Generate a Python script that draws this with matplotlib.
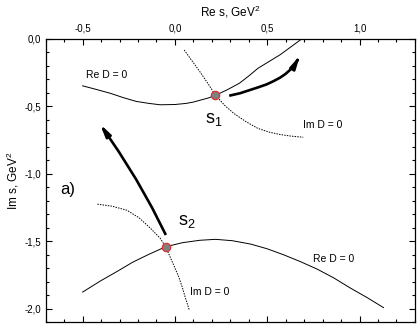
import matplotlib
matplotlib.use("Agg")
import matplotlib.pyplot as plt
from matplotlib.ticker import MultipleLocator, FuncFormatter

plt.rcParams['font.family'] = ['Liberation Sans', 'DejaVu Sans']
plt.rcParams['mathtext.fontset'] = 'custom'
plt.rcParams['mathtext.rm'] = 'Liberation Sans'
plt.rcParams['mathtext.it'] = 'Liberation Sans:italic'

# Re D = 0, upper branch
re1_x = [-0.50, -0.43, -0.35, -0.28, -0.21, -0.14, -0.08, 0.0, 0.06, 0.10, 0.14, 0.18,
         0.22, 0.285, 0.35, 0.40, 0.45, 0.51, 0.57, 0.63, 0.69]
re1_y = [-0.35, -0.375, -0.405, -0.437, -0.465, -0.48, -0.49, -0.488, -0.48, -0.47, -0.455, -0.44,
         -0.42, -0.378, -0.33, -0.277, -0.22, -0.17, -0.12, -0.06, 0.0]
# Im D = 0, upper branch
im1_x = [0.05, 0.09, 0.135, 0.18, 0.22, 0.27, 0.32, 0.385, 0.45, 0.51, 0.57, 0.63, 0.695]
im1_y = [-0.085, -0.16, -0.245, -0.335, -0.42, -0.495, -0.555, -0.615, -0.665, -0.692, -0.71, -0.722, -0.73]
# Re D = 0, lower branch
re2_x = [-0.50, -0.40, -0.31, -0.23, -0.14, -0.05, 0.04, 0.135, 0.22, 0.31, 0.41, 0.50,
         0.59, 0.68, 0.77, 0.86, 0.95, 1.04, 1.13]
re2_y = [-1.875, -1.79, -1.72, -1.655, -1.595, -1.54, -1.51, -1.492, -1.485, -1.495, -1.52, -1.555,
         -1.60, -1.65, -1.705, -1.77, -1.845, -1.915, -1.99]
# Im D = 0, lower branch
im2_x = [-0.42, -0.34, -0.26, -0.195, -0.135, -0.08, -0.05, -0.015, 0.02, 0.04, 0.055, 0.077]
im2_y = [-1.225, -1.24, -1.27, -1.325, -1.40, -1.477, -1.54, -1.65, -1.76, -1.84, -1.91, -2.005]

# poles s1, s2
poles_x = [0.218, -0.05]
poles_y = [-0.42, -1.54]

# trajectories of the poles (thick arrows)
path1_x = [0.294, 0.352, 0.406, 0.451, 0.497, 0.533, 0.569, 0.599, 0.623, 0.645, 0.659, 0.677]
path1_y = [-0.423, -0.405, -0.381, -0.361, -0.339, -0.316, -0.290, -0.262, -0.233, -0.200, -0.171, -0.127]
path2_x = [-0.049, -0.125, -0.210, -0.304, -0.406]
path2_y = [-1.453, -1.248, -1.042, -0.837, -0.632]

fig = plt.figure(figsize=(4.17, 3.25), dpi=100)
ax = fig.add_axes([0.1096, 0.0077, 0.8854, 0.8738])

ax.plot(re1_x, re1_y, color='black', lw=0.7)
ax.plot(re2_x, re2_y, color='black', lw=0.7)
ax.plot(im1_x, im1_y, color='black', lw=0.7, linestyle=(0, (1.5, 1.2)))
ax.plot(im2_x, im2_y, color='black', lw=0.7, linestyle=(0, (1.5, 1.2)))
ax.plot(poles_x, poles_y, 'o', ms=6, mfc='#808080', mec='#e03030', mew=0.9, zorder=5)

for px, py in [(path1_x, path1_y), (path2_x, path2_y)]:
    ax.plot(px[:-1], py[:-1], color='black', lw=1.9, solid_capstyle='butt',
            solid_joinstyle='round')
    ax.annotate('', xy=(px[-1], py[-1]), xytext=(px[-2], py[-2]),
                arrowprops=dict(arrowstyle='-|>,head_length=0.7,head_width=0.16', lw=1.9,
                                color='black', shrinkA=0, shrinkB=0))

ax.text(-0.482, -0.27, 'Re D = 0', fontsize=7.5, va='center', ha='left')
ax.text(0.693, -0.64, 'Im D = 0', fontsize=7.5, va='center', ha='left')
ax.text(0.748, -1.63, 'Re D = 0', fontsize=7.5, va='center', ha='left')
ax.text(0.081, -1.874, 'Im D = 0', fontsize=7.5, va='center', ha='left')
ax.text(0.163, -0.625, r's$_1$', fontsize=13, va='baseline', ha='left')
ax.text(0.016, -1.379, r's$_2$', fontsize=13, va='baseline', ha='left')
ax.text(-0.623, -1.152, 'a)', fontsize=12, va='baseline', ha='left')

ax.set_xlim(-0.7, 1.3)
ax.set_ylim(-2.1, 0)

comma = FuncFormatter(lambda v, p: ('%.1f' % v).replace('.', ','))
ax.xaxis.set_major_locator(MultipleLocator(0.5))
ax.xaxis.set_minor_locator(MultipleLocator(0.1))
ax.yaxis.set_major_locator(MultipleLocator(0.5))
ax.yaxis.set_minor_locator(MultipleLocator(0.1))
ax.xaxis.set_major_formatter(comma)
ax.yaxis.set_major_formatter(comma)

ax.xaxis.tick_top()
ax.xaxis.set_label_position('top')
ax.tick_params(which='both', direction='in', top=True, bottom=True, left=True, right=True,
               labeltop=True, labelbottom=False, labelleft=True, labelright=False,
               labelsize=7, width=0.8)
ax.tick_params(which='major', length=4)
ax.tick_params(which='minor', length=2.5)
for s in ax.spines.values():
    s.set_linewidth(0.9)

ax.set_xlabel('Re s, GeV$^2$', fontsize=8.5, labelpad=5)
ax.set_ylabel('Im s, GeV$^2$', fontsize=8.5, labelpad=2)

fig.savefig('out.png', dpi=100)
